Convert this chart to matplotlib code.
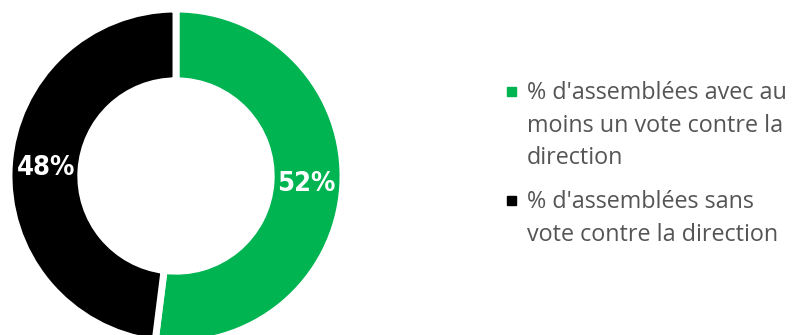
import numpy as np
import matplotlib.pyplot as plt

# share of meetings
labels = ["% d'assemblées avec au\nmoins un vote contre la\ndirection",
          "% d'assemblées sans\nvote contre la direction"]
values = [52, 48]
colors = ['#00b451', '#000000']

W, H = 797, 335
fig = plt.figure(figsize=(W / 100, H / 100), dpi=100)

# donut axes in pixel units, centre (176, 176)
cx, cy, R = 176, 176, 167
ax = fig.add_axes([(cx - R) / W, (H - cy - R) / H, 2 * R / W, 2 * R / H])
wedges, _ = ax.pie(values, colors=colors, startangle=90, counterclock=False,
                   radius=1.0, wedgeprops=dict(width=0.43, edgecolor='white', linewidth=5))
ax.set_xlim(-1, 1)
ax.set_ylim(-1, 1)
ax.set_aspect('equal')
ax.axis('off')

start = 90.0
for v in values:
    sweep = v / sum(values) * 360
    mid = np.deg2rad(start - sweep / 2)
    r = 0.78
    ax.text(r * np.cos(mid), r * np.sin(mid), f'{v}%', ha='center', va='center',
            color='white', fontsize=19.5, fontweight='bold', fontstretch='condensed',
            family=['DejaVu Sans'])
    start -= sweep

# legend on the right
ys = [92, 201]
for lab, col, y in zip(labels, colors, ys):
    fig.patches.append(plt.Rectangle((507 / W, 1 - (y + 4) / H), 9 / W, 9 / H,
                                     transform=fig.transFigure, color=col, figure=fig))
    fig.text(527 / W, 1 - (y - 11) / H, lab, ha='left', va='top', color='#555555',
             fontsize=16.8, family=['Open Sans', 'DejaVu Sans'], linespacing=1.48)

fig.savefig('out.png', dpi=100, facecolor='white')
